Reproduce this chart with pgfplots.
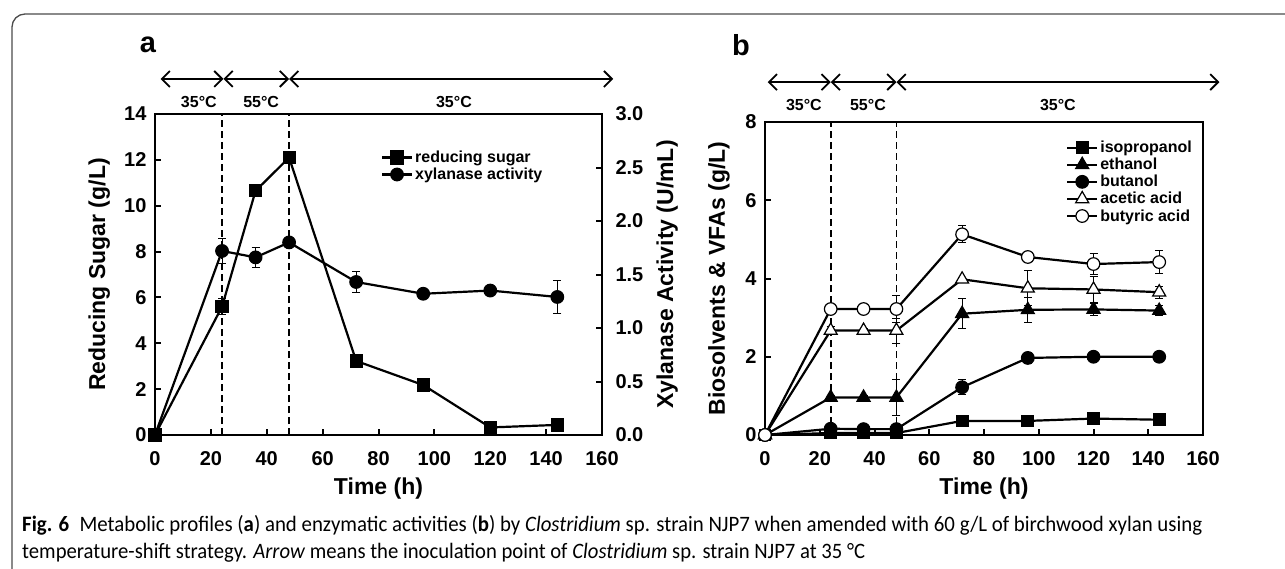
\documentclass[border=0pt]{standalone}
\usepackage{fontspec}
\setmainfont{Liberation Sans}
\newfontfamily\capfont{Carlito}
\usepackage{pgfplots}
\usepackage{pgfplotstable}
\pgfplotsset{compat=1.18}
\usetikzlibrary{arrows.meta}

\pgfplotstableread{
t rs rse xa xae
0 0 0 0 0
24 5.6 0.35 1.72 0.12
36 10.65 0.1 1.66 0.09
48 12.1 0.1 1.80 0.05
72 3.23 0.3 1.43 0.10
96 2.18 0.1 1.32 0.03
120 0.33 0.1 1.35 0.04
144 0.44 0.3 1.29 0.15
}\dataA

\pgfplotstableread{
t iso isoe eth ethe but bute ace acee buty butye
0 0 0 0 0 0 0 0 0 0 0
24 0.05 0.02 0.96 0.05 0.16 0.03 2.67 0.10 3.22 0.05
36 0.05 0.02 0.96 0.05 0.15 0.03 2.67 0.05 3.22 0.05
48 0.05 0.02 0.96 0.45 0.15 0.03 2.67 0.32 3.22 0.35
72 0.36 0.03 3.10 0.38 1.22 0.19 3.98 0.05 5.13 0.22
96 0.36 0.03 3.20 0.32 1.97 0.15 3.75 0.45 4.55 0.05
120 0.42 0.03 3.21 0.15 2.00 0.05 3.72 0.34 4.37 0.26
144 0.39 0.03 3.18 0.13 2.00 0.05 3.65 0.15 4.42 0.29
}\dataB

\tikzset{
  arr/.style={line width=1.8pt, {Straight Barb[length=8pt,width=16pt]}-{Straight Barb[length=8pt,width=16pt]}},
  tlab/.style={font=\bfseries\fontsize{16}{16}\selectfont},
}
\pgfplotsset{
  panel/.style={
    scale only axis, clip=false,
    /pgf/number format/assume math mode=true,
    tick label style={font=\bfseries\fontsize{20}{20}\selectfont},
    xticklabel style={yshift=-13pt},
    label style={font=\bfseries\fontsize{23}{23}\selectfont},
    axis line style={line width=2.6pt},
    tick style={line width=2pt, black},
    major tick length=6pt,
    tick align=inside,
    legend cell align=left,
    legend image code/.code={\draw[##1, mark repeat=2, mark phase=2] plot coordinates {(0pt,0pt) (15pt,0pt) (30pt,0pt)};},
  },
  ser/.style={line width=2.2pt, black, mark options={solid, line width=1.2pt, draw=black, fill=#1},
    error bars/y dir=both, error bars/y explicit,
    error bars/error bar style={line width=1pt, solid, black},
    error bars/error mark options={rotate=90, mark size=4pt, line width=1pt, black}},
  ser/.default=black,
  vdash/.style={line width=1.8pt, dash pattern=on 7pt off 4pt, black, forget plot},
}

\newsavebox\capA
\newsavebox\capB

\begin{document}
\sbox\capA{\capfont\fontsize{22}{22}\selectfont\textbf{Fig. 6}\enspace Metabolic profiles (\textbf{a}) and enzymatic activities (\textbf{b}) by \textit{Clostridium} sp. strain NJP7 when amended with 60 g/L of birchwood xylan using}%
\sbox\capB{\capfont\fontsize{22}{22}\selectfont temperature-shift strategy. \textit{Arrow} means the inoculation point of \textit{Clostridium} sp. strain NJP7 at 35 °C}%
\edef\sa{\fpeval{1180*65536/\number\wd\capA}}%
\edef\sb{\fpeval{843*65536/\number\wd\capB}}%
\begin{tikzpicture}[x=1pt,y=1pt]
\useasboundingbox (0,0) rectangle (1285,-569);
\draw[line width=1.3pt, black!70, rounded corners=13pt] (12,-700) -- (12,-14) -- (1400,-14);

% ---------- panel a ----------
\begin{axis}[panel, at={(155pt,-435pt)}, anchor=south west,
  width=447pt, height=321pt,
  xmin=0, xmax=160, ymin=0, ymax=14,
  xtick={0,20,...,160}, ytick={0,2,...,14},
  xtick pos=bottom, ytick pos=left,
  yticklabel style={xshift=-5pt},
  xlabel={Time (h)}, ylabel={Reducing Sugar (g/L)},
  xlabel style={at={(axis description cs:0.5,-0.168)}, anchor=center},
  ylabel style={at={(axis description cs:-0.125,0.5)}, anchor=center, rotate=0},
]
\addplot[vdash] coordinates {(24,0) (24,14)};
\addplot[vdash] coordinates {(48,0) (48,14)};
\addplot[ser, mark=square*, mark size=6pt] table[x=t, y=rs, y error=rse] {\dataA};
\draw[arr] (axis cs:2,15.53) -- (axis cs:24.5,15.53);
\draw[arr] (axis cs:24.5,15.53) -- (axis cs:48,15.53);
\draw[arr] (axis cs:48,15.53) -- (axis cs:164,15.53);
\node[tlab] at (axis cs:15.7,14.52) {35°C};
\node[tlab] at (axis cs:38,14.52) {55°C};
\node[tlab] at (axis cs:107,14.52) {35°C};
\end{axis}
\begin{axis}[panel, at={(155pt,-435pt)}, anchor=south west,
  width=447pt, height=321pt,
  xmin=0, xmax=160, ymin=0, ymax=3,
  axis x line=none, axis y line*=right,
  ytick={0,0.5,1,1.5,2,2.5,3},
  yticklabel style={xshift=10pt, /pgf/number format/.cd, fixed, fixed zerofill, precision=1},
  ylabel={Xylanase Activity (U/mL)},
  ylabel style={at={(axis description cs:1.146,0.5)}, anchor=center, rotate=0},
  legend style={draw=none, fill=none, font=\bfseries\fontsize{16}{16}\selectfont,
    at={(axis description cs:0.505,0.892)}, anchor=north west, inner sep=0pt, row sep=0pt},
]
\addlegendimage{line width=2.2pt, black, mark=square*, mark size=6pt, mark options={solid, fill=black}}
\addlegendentry{reducing sugar}
\addplot[ser, mark=*, mark size=6.3pt] table[x=t, y=xa, y error=xae] {\dataA};
\addlegendentry{xylanase activity}
\end{axis}

\node[font=\bfseries\fontsize{29}{29}\selectfont] at (148,-45) {a};
\node[font=\bfseries\fontsize{29}{29}\selectfont] at (741,-45) {b};

% ---------- panel b ----------
\begin{axis}[panel, at={(765pt,-435pt)}, anchor=south west,
  width=438pt, height=313pt,
  xmin=0, xmax=160, ymin=0, ymax=8,
  xtick={0,20,...,160}, ytick={0,2,...,8},
  xtick pos=bottom, ytick pos=left,
  yticklabel style={xshift=-5pt},
  xlabel={Time (h)}, ylabel={Biosolvents \& VFAs (g/L)},
  xlabel style={at={(axis description cs:0.5,-0.172)}, anchor=center},
  ylabel style={at={(axis description cs:-0.105,0.5)}, anchor=center, rotate=0},
  legend style={draw=none, fill=none, font=\bfseries\fontsize{16}{16}\selectfont,
    at={(axis description cs:0.687,0.946)}, anchor=north west, inner sep=0pt, row sep=0pt},
]
\addplot[vdash] coordinates {(24,0) (24,8)};
\addplot[vdash] coordinates {(48,0) (48,8)};
\addplot[ser, mark=square*, mark size=5.8pt] table[x=t, y=iso, y error=isoe] {\dataB};
\addlegendentry{isopropanol}
\addplot[ser, mark=triangle*, mark size=7.5pt] table[x=t, y=eth, y error=ethe] {\dataB};
\addlegendentry{ethanol}
\addplot[ser, mark=*, mark size=6.3pt] table[x=t, y=but, y error=bute] {\dataB};
\addlegendentry{butanol}
\addplot[ser=white, mark=triangle*, mark size=7.5pt] table[x=t, y=ace, y error=acee] {\dataB};
\addlegendentry{acetic acid}
\addplot[ser=white, mark=*, mark size=6.3pt] table[x=t, y=buty, y error=butye] {\dataB};
\addlegendentry{butyric acid}
\draw[arr] (axis cs:1,9.02) -- (axis cs:24,9.02);
\draw[arr] (axis cs:24,9.02) -- (axis cs:48,9.02);
\draw[arr] (axis cs:48,9.02) -- (axis cs:166,9.02);
\node[tlab] at (axis cs:14.2,8.43) {35°C};
\node[tlab] at (axis cs:37.6,8.43) {55°C};
\node[tlab] at (axis cs:107,8.43) {35°C};
\end{axis}

% ---------- caption ----------
\node[anchor=base west, inner sep=0pt, text=black!85] at (22,-531) {\scalebox{\sa}[1]{\usebox\capA}};
\node[anchor=base west, inner sep=0pt, text=black!85] at (22,-558) {\scalebox{\sb}[1]{\usebox\capB}};
\end{tikzpicture}
\end{document}
